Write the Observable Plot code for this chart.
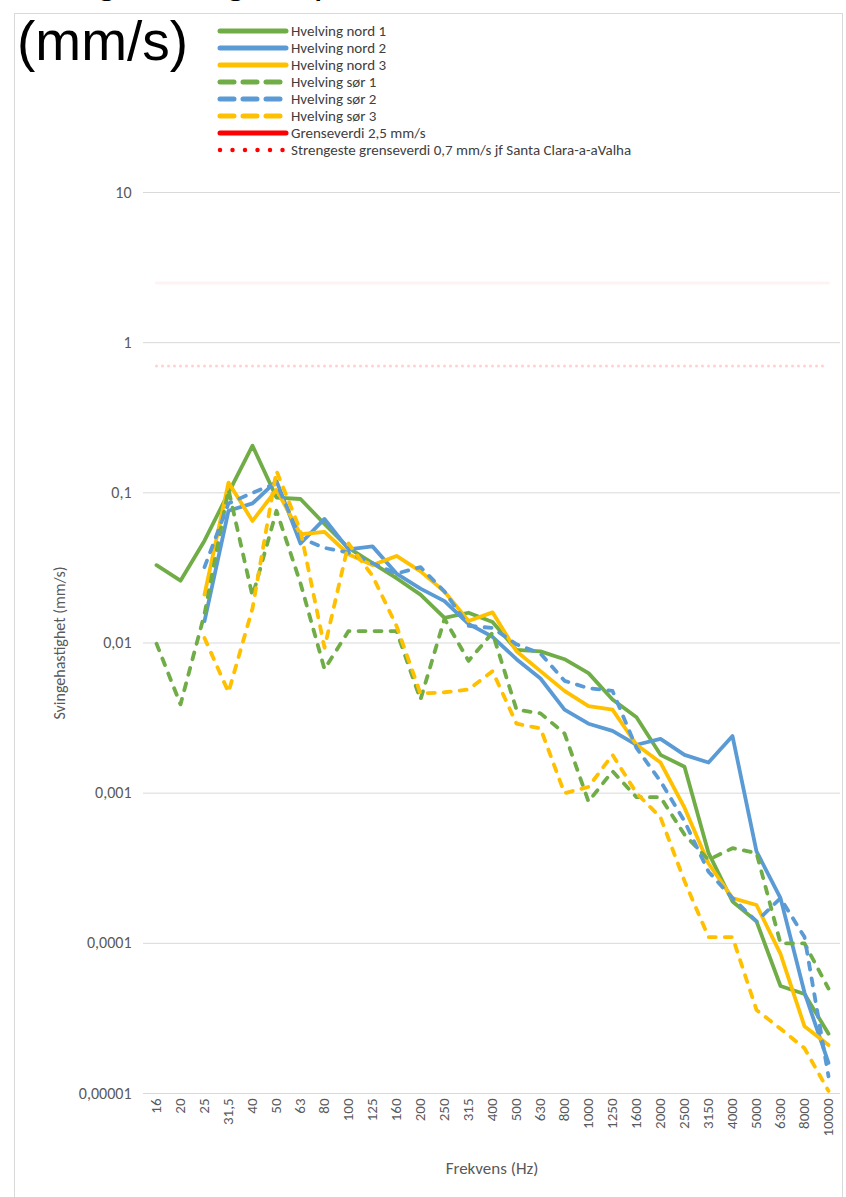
<!DOCTYPE html>
<html>
<head>
<meta charset="utf-8">
<script src="https://cdn.jsdelivr.net/npm/d3@7"></script>
<script src="https://cdn.jsdelivr.net/npm/@observablehq/plot@0.6"></script>
<style>
  html, body { margin: 0; padding: 0; background: #fff; }
  #wrap { position: relative; width: 846px; height: 1197px; overflow: hidden; background: #fff; }
  #frame { position: absolute; left: 14px; top: 13px; width: 829px; height: 1300px; border: 1px solid #d9d9d9; box-sizing: border-box; }
  #title1 { position: absolute; left: 18px; top: -41px; font-family: "Liberation Sans", Arial, sans-serif; font-size: 40px; line-height: 40px; color: #000; white-space: nowrap; }
  #title2 { position: absolute; left: 17px; top: 14px; font-family: "Liberation Sans", Arial, sans-serif; font-size: 55px; line-height: 55px; color: #000; white-space: nowrap; }
  #legend { position: absolute; left: 217px; top: 22px; font-family: Carlito, Lato, "Open Sans", sans-serif; font-size: 15px; color: #404040; }
  #legend .row { height: 17px; display: flex; align-items: center; }
  #legend svg { margin-right: 2px; }
  #chart { position: absolute; left: 0; top: 170px; }
</style>
</head>
<body>
<div id="wrap">
  <div id="frame"></div>
  <div id="title1">Svingehastighet per frekvens</div>
  <div id="title2">(mm/s)</div>
  <div id="legend"></div>
  <div id="chart"></div>
</div>
<script>
// ---- data ----
const freqLabels = ["16","20","25","31,5","40","50","63","80","100","125","160","200","250","315","400","500","630","800","1000","1250","1600","2000","2500","3150","4000","5000","6300","8000","10000"];

const nord1 = [0.033,0.026,0.048,0.1,0.206,0.093,0.091,0.062,0.043,0.034,0.027,0.021,0.0147,0.0159,0.0138,0.009,0.0088,0.0078,0.0063,0.0042,0.0032,0.0018,0.0015,0.0004,0.00019,0.00014,0.000052,0.000046,0.000025];
const nord2 = [null,null,0.014,0.076,0.085,0.12,0.046,0.067,0.042,0.044,0.029,0.023,0.019,0.0134,0.011,0.0078,0.0058,0.0036,0.0029,0.0026,0.0021,0.0023,0.0018,0.0016,0.0024,0.00041,0.0002,0.000047,0.000016];
const nord3 = [null,null,0.021,0.117,0.065,0.105,0.053,0.055,0.039,0.033,0.038,0.03,0.022,0.014,0.016,0.0088,0.0065,0.0048,0.0038,0.0036,0.0021,0.0016,0.0008,0.00034,0.0002,0.00018,0.000085,0.000028,0.000021];
const sor1 = [0.0099,0.0039,0.0156,0.105,0.0205,0.076,0.025,0.0067,0.012,0.012,0.012,0.0042,0.0145,0.0076,0.0117,0.0036,0.0034,0.0025,0.00088,0.0014,0.00094,0.00094,0.00053,0.00036,0.00043,0.0004,0.0001,0.0001,0.00005];
const sor2 = [null,null,0.032,0.085,0.1,0.116,0.05,0.043,0.04,0.034,0.029,0.032,0.022,0.013,0.0126,0.0098,0.0085,0.0056,0.005,0.0048,0.002,0.0012,0.00065,0.0003,0.0002,0.00014,0.0002,0.00011,0.000013];
const sor3 = [null,null,0.0108,0.0047,0.017,0.14,0.056,0.0093,0.046,0.028,0.013,0.0046,0.0047,0.0049,0.0065,0.0029,0.0027,0.001,0.0011,0.0018,0.001,0.00069,0.00026,0.00011,0.00011,0.000036,0.000027,0.00002,0.0000104];

const limitValues = [2.5, 0.7];
const seriesNames = ["Hvelving nord 1","Hvelving nord 2","Hvelving nord 3","Hvelving sør 1","Hvelving sør 2","Hvelving sør 3"];
const limitNames = ["Grenseverdi 2,5 mm/s","Strengeste grenseverdi 0,7 mm/s jf Santa Clara-a-aValha"];

const yTicks = [10, 1, 0.1, 0.01, 0.001, 0.0001, 0.00001];
const yTickLabels = ["10","1","0,1","0,01","0,001","0,0001","0,00001"];

// ---- styles ----
const seriesColors = ["#70AD47","#5B9BD5","#FFC000","#70AD47","#5B9BD5","#FFC000"];
const seriesDash = [null,null,null,"7,9","7,9","7,9"];
const FONT = 'Carlito, Lato, "Open Sans", sans-serif';

const seriesValues = [nord1, nord2, nord3, sor1, sor2, sor3];
const rows = [];
seriesValues.forEach((vals, s) => vals.forEach((v, i) => {
  if (v != null) rows.push({series: seriesNames[s], freq: freqLabels[i], value: v});
}));
const limitRows = [];
limitValues.forEach((lv, k) => freqLabels.forEach(f => limitRows.push({series: limitNames[k], freq: f, value: lv})));

const lineMarks = seriesNames.map((name, s) => Plot.line(rows.filter(r => r.series === name), {
  x: "freq", y: "value", stroke: seriesColors[s], strokeWidth: 3.8,
  strokeDasharray: seriesDash[s] || undefined, strokeLinecap: "round", strokeLinejoin: "round"
}));

const chart = Plot.plot({
  width: 846, height: 1020,
  marginLeft: 143, marginRight: 6, marginTop: 22, marginBottom: 97,
  style: {fontFamily: FONT, fontSize: "15px", color: "#595959", background: "transparent"},
  x: {type: "point", domain: freqLabels, padding: 0.18, label: null},
  y: {type: "log", domain: [1e-5, 10], label: null},
  marks: [
    Plot.ruleY(yTicks, {stroke: "#d9d9d9", strokeWidth: 1}),
    Plot.axisY({ticks: yTicks, tickSize: 0, tickPadding: 12, label: null,
      tickFormat: d => yTickLabels[yTicks.indexOf(d)], fontSize: 16}),
    Plot.axisY({ticks: [], label: "Svingehastighet (mm/s)", labelAnchor: "center", labelArrow: "none", labelOffset: 90, fontSize: 16}),
    Plot.axisX({tickSize: 0, tickRotate: -90, tickPadding: 5, fontSize: 15, label: null}),
    Plot.axisX({ticks: [], label: "Frekvens (Hz)", labelAnchor: "center", labelArrow: "none", labelOffset: 80, fontSize: 17}),
    Plot.line(limitRows.filter(r => r.series === limitNames[0]), {x: "freq", y: "value", stroke: "#FF0000", strokeWidth: 3, strokeOpacity: 0.05}),
    Plot.line(limitRows.filter(r => r.series === limitNames[1]), {x: "freq", y: "value", stroke: "#FF0000", strokeWidth: 3, strokeOpacity: 0.18, strokeDasharray: "0,6", strokeLinecap: "round"}),
    ...lineMarks
  ]
});
document.getElementById("chart").appendChild(chart);

// ---- legend ----
const legend = document.getElementById("legend");
const legendItems = seriesNames.map((n, s) => ({name: n, color: seriesColors[s], dash: seriesDash[s] ? "14,9" : null, width: 5}))
  .concat([{name: limitNames[0], color: "#FF0000", dash: null, width: 5}, {name: limitNames[1], color: "#FF0000", dash: "0,12.5", width: 4.5}]);
legendItems.forEach(it => {
  const row = document.createElement("div");
  row.className = "row";
  const sw = d3.create("svg").attr("width", 72).attr("height", 10);
  sw.append("line").attr("x1", 3).attr("x2", 69).attr("y1", 5).attr("y2", 5)
    .attr("stroke", it.color).attr("stroke-width", it.width).attr("stroke-linecap", "round")
    .attr("stroke-dasharray", it.dash);
  row.appendChild(sw.node());
  const t = document.createElement("span");
  t.textContent = it.name;
  row.appendChild(t);
  legend.appendChild(row);
});
</script>
</body>
</html>
